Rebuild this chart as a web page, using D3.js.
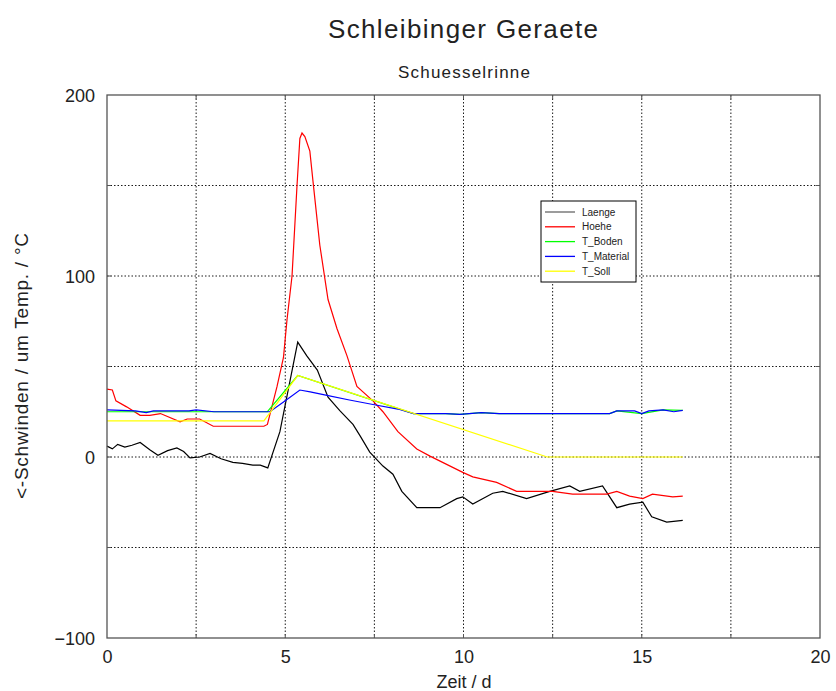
<!DOCTYPE html>
<html>
<head>
<meta charset="utf-8">
<script src="https://cdn.jsdelivr.net/npm/d3@7"></script>
<style>
  body { margin: 0; background: #fff; }
  svg text { font-family: "Liberation Sans", Arial, Helvetica, sans-serif; fill: #222; }
</style>
</head>
<body>
<div id="chart"></div>
<script>
// series: [t in days, value]
var laenge = [[0,6],[0.15,4.5],[0.3,7],[0.5,5.5],[0.7,6.5],[0.93,8],[1.2,4],[1.43,1],[1.7,3.5],[1.96,5],
  [2.15,3],[2.33,-0.5],[2.6,0],[2.89,2],[3.2,-1],[3.53,-3],[3.8,-3.5],[4.09,-4.5],[4.3,-4.5],[4.51,-6],
  [4.85,14],[5.35,63.5],[5.6,56],[5.9,48],[6.2,33],[6.53,25.6],[6.9,18],[7.1,11.7],[7.37,2.7],
  [7.74,-5],[8.02,-9.5],[8.27,-19],[8.69,-28],[9.34,-28],[9.81,-23],[9.98,-22],[10.26,-26],[10.82,-20],
  [11.1,-19],[11.77,-23],[12.42,-19],[12.98,-16],[13.26,-19],[13.9,-16],[14.3,-28],[14.66,-26],
  [15.03,-25],[15.28,-33],[15.7,-36],[16.15,-35]];
var hoehe = [[0,37.5],[0.15,37],[0.25,31],[0.55,27.7],[0.93,23],[1.2,23],[1.5,24],[2.05,19.4],[2.25,21],
  [2.6,21],[2.98,17],[4.4,17],[4.5,18],[4.77,39],[4.95,55],[5.05,76],[5.19,100],[5.33,150],[5.41,176],
  [5.47,179],[5.55,177],[5.69,169],[5.78,152],[5.97,117],[6.2,87],[6.45,71],[6.73,56],[7.01,39],
  [7.46,31],[7.74,25],[8.16,14],[8.69,4.4],[9.06,0.5],[9.98,-8.5],[10.26,-11],[10.93,-14],[11.49,-19],
  [12.5,-19],[13.06,-20.5],[14.02,-20.5],[14.3,-19],[14.66,-21.6],[15.03,-23],[15.3,-20.5],
  [15.87,-22],[16.15,-21.6]];
var tBoden = [[0,25],[4.5,25],[5.35,45],[8.6,24],[9.5,24],[9.9,23.5],[10.5,24.5],[11,24],[14.1,24],
  [14.3,25.5],[15,24],[15.6,26],[16.15,25.8]];
var tMaterial = [[0,26],[0.8,25.5],[1.1,24.5],[1.3,25.5],[2.3,25.5],[2.5,26],[3,25],[4.57,25],[4.99,31],
  [5.41,37],[5.7,36],[6.17,34],[6.8,31.5],[7.46,29],[8.16,26.5],[8.6,24],[9.5,24],[9.9,23.5],[10.5,24.5],
  [11,24],[14.1,24],[14.3,25.5],[14.8,25.5],[15,24],[15.2,25.5],[15.6,26],[15.9,25],[16.15,25.8]];
var tSoll = [[0,20],[4.4,20],[5.35,45],[12.35,0],[16.15,0]];

var seriesNames = ["Laenge", "Hoehe", "T_Boden", "T_Material", "T_Soll"];
var seriesColors = ["#000000", "#ff0000", "#00ff00", "#0000ff", "#ffff00"];
var seriesData = [laenge, hoehe, tBoden, tMaterial, tSoll];

var xTicks = [0, 5, 10, 15, 20];
var yTicks = [-100, 0, 100, 200];
var xGrid = [2.5, 5, 7.5, 10, 12.5, 15, 17.5];
var yGrid = [-50, 0, 50, 100, 150];

var width = 836, height = 691;
var plotL = 107, plotR = 820, plotT = 95, plotB = 638;

var svg = d3.select("#chart").append("svg")
    .attr("width", width)
    .attr("height", height);

var x = d3.scaleLinear().domain([0, 20]).range([plotL, plotR]);
var y = d3.scaleLinear().domain([-100, 200]).range([plotB, plotT]);

// grid
svg.append("g").selectAll("line").data(xGrid).enter().append("line")
    .attr("x1", function(d){ return x(d); }).attr("x2", function(d){ return x(d); })
    .attr("y1", plotT).attr("y2", plotB)
    .attr("stroke", "#000").attr("stroke-width", 0.9).attr("stroke-dasharray", "1.5,2");
svg.append("g").selectAll("line").data(yGrid).enter().append("line")
    .attr("y1", function(d){ return y(d); }).attr("y2", function(d){ return y(d); })
    .attr("x1", plotL).attr("x2", plotR)
    .attr("stroke", "#000").attr("stroke-width", 0.9).attr("stroke-dasharray", "1.5,2");

// series
var line = d3.line()
    .x(function(d){ return x(d[0]); })
    .y(function(d){ return y(d[1]); });

svg.append("g").selectAll("path").data(seriesData).enter().append("path")
    .attr("d", line)
    .attr("fill", "none")
    .attr("stroke", function(d, i){ return seriesColors[i]; })
    .attr("stroke-width", 1.2);

// frame with short inward ticks at the grid positions
svg.append("rect")
    .attr("x", plotL).attr("y", plotT)
    .attr("width", plotR - plotL).attr("height", plotB - plotT)
    .attr("fill", "none").attr("stroke", "#555").attr("stroke-width", 1.3);
var ticks = svg.append("g").attr("stroke", "#555").attr("stroke-width", 1);
xGrid.forEach(function(d){
  ticks.append("line").attr("x1", x(d)).attr("x2", x(d)).attr("y1", plotB).attr("y2", plotB - 4);
  ticks.append("line").attr("x1", x(d)).attr("x2", x(d)).attr("y1", plotT).attr("y2", plotT + 4);
});
yGrid.forEach(function(d){
  ticks.append("line").attr("y1", y(d)).attr("y2", y(d)).attr("x1", plotL).attr("x2", plotL + 4);
  ticks.append("line").attr("y1", y(d)).attr("y2", y(d)).attr("x1", plotR).attr("x2", plotR - 4);
});

// axes (labels only, frame drawn above)
var xAxis = svg.append("g").attr("transform", "translate(0," + plotB + ")")
    .call(d3.axisBottom(x).tickValues(xTicks).tickSize(0).tickPadding(12));
var yAxis = svg.append("g").attr("transform", "translate(" + plotL + ",0)")
    .call(d3.axisLeft(y).tickValues(yTicks).tickSize(0).tickPadding(12)
      .tickFormat(function(d){ return d < 0 ? "\u2212" + Math.abs(d) : d; }));
[xAxis, yAxis].forEach(function(a){
  a.select(".domain").remove();
  a.selectAll("text").attr("font-size", 18).style("font-family", "\"Liberation Sans\", Arial, sans-serif").attr("fill", "#333");
});
yAxis.selectAll("text").attr("dy", "0.36em");

// titles
svg.append("text").attr("x", 463).attr("y", 38).attr("text-anchor", "middle")
    .attr("font-size", 26).attr("textLength", 270).attr("lengthAdjust", "spacing")
    .text("Schleibinger Geraete");
svg.append("text").attr("x", 464).attr("y", 78).attr("text-anchor", "middle")
    .attr("font-size", 17).attr("fill", "#333").attr("textLength", 132).attr("lengthAdjust", "spacing")
    .text("Schuesselrinne");
svg.append("text").attr("x", 464).attr("y", 688).attr("text-anchor", "middle")
    .attr("font-size", 18).attr("fill", "#333").text("Zeit / d");
svg.append("text").attr("transform", "translate(28,366) rotate(-90)").attr("text-anchor", "middle")
    .attr("font-size", 19).attr("fill", "#333").attr("textLength", 266).attr("lengthAdjust", "spacing")
    .text("<-Schwinden / um  Temp. / \u00b0C");

// legend
var lg = svg.append("g").attr("transform", "translate(541,201)");
lg.append("rect").attr("width", 95).attr("height", 81)
    .attr("fill", "#fff").attr("stroke", "#000").attr("stroke-width", 1);
var item = lg.selectAll("g.item").data(seriesNames).enter().append("g")
    .attr("class", "item")
    .attr("transform", function(d, i){ return "translate(0," + (11 + i * 14.8) + ")"; });
item.append("line").attr("x1", 4).attr("x2", 34).attr("y1", 0).attr("y2", 0)
    .attr("stroke", function(d, i){ return i === 0 ? "#666" : seriesColors[i]; })
    .attr("stroke-width", 1.3);
item.append("text").attr("x", 41).attr("y", 3.5).attr("font-size", 10).attr("fill", "#333")
    .text(function(d){ return d; });
</script>
</body>
</html>
